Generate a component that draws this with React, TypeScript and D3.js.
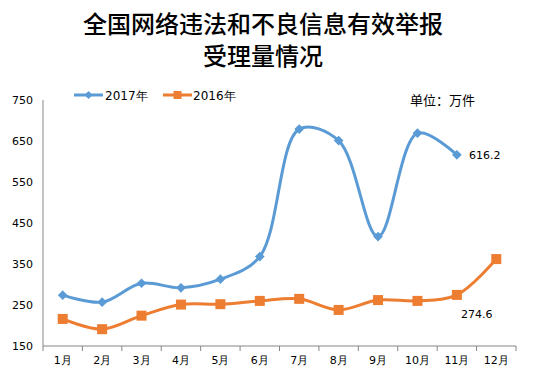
import React from "react";
import * as d3 from "d3";

const months = ["1月","2月","3月","4月","5月","6月","7月","8月","9月","10月","11月","12月"];
const values2017 = [274, 257, 303, 292, 313, 368, 679, 651, 417, 669, 616.2];
const values2016 = [216, 191, 224, 251, 252, 260, 265, 238, 262, 260, 274.6, 362];
const yTicks = [150, 250, 350, 450, 550, 650, 750];

const W = 536, H = 382;
const left = 43, right = 516, top = 100, bottom = 346;
const blue = "#5B9BD5";
const orange = "#ED7D31";
const font = "'DejaVu Sans', sans-serif";
const cjk = "'Noto Sans CJK SC', sans-serif";

export default function App() {
  const x = d3.scaleBand<string>().domain(months).range([left, right]);
  const y = d3.scaleLinear().domain([150, 750]).range([bottom, top]);
  const cx = (i: number) => (x(months[i]) as number) + x.bandwidth() / 2;
  const line = d3.line<number>().x((_, i) => cx(i)).y(d => y(d)).curve(d3.curveCatmullRom.alpha(0.5));
  const dtype = (d3 as any).symbolDiamond2 || d3.symbolDiamond;
  const diamond = d3.symbol().type(dtype).size(60)() as string;
  const legendDiamond = d3.symbol().type(dtype).size(40)() as string;
  const sq = 10;
  const boundaries = d3.range(months.length + 1).map(i => left + i * x.step());
  return (
    <svg width={W} height={H} style={{ position: "absolute", left: 0, top: 0 }}>
      <rect width={W} height={H} fill="#fff" />
      <text x={263} y={33} textAnchor="middle" fontFamily={cjk} fontWeight={500} fontSize={24}>全国网络违法和不良信息有效举报</text>
      <text x={263} y={65} textAnchor="middle" fontFamily={cjk} fontWeight={500} fontSize={24}>受理量情况</text>
      <text x={410} y={105} fontFamily={cjk} fontSize={13}>单位：万件</text>
      {/* legend */}
      <line x1={74} x2={103} y1={95} y2={95} stroke={blue} strokeWidth={3} />
      <path d={legendDiamond} transform="translate(88.5,95)" fill={blue} />
      <text x={105} y={100} fontFamily={font} fontSize={12}>2017年</text>
      <line x1={163} x2={192} y1={95} y2={95} stroke={orange} strokeWidth={3} />
      <rect x={177.5 - 4} y={91} width={8} height={8} fill={orange} />
      <text x={193} y={100} fontFamily={font} fontSize={12}>2016年</text>
      {/* axes */}
      <line x1={left} x2={left} y1={top} y2={bottom} stroke="#868686" />
      <line x1={left} x2={right} y1={bottom} y2={bottom} stroke="#868686" />
      {boundaries.map((b, i) => (
        <line key={i} x1={b} x2={b} y1={bottom} y2={bottom + 5} stroke="#868686" />
      ))}
      {yTicks.map(t => (
        <text key={t} x={33} y={y(t) + 4} textAnchor="end" fontFamily={font} fontSize={11}>{t}</text>
      ))}
      {months.map((m, i) => (
        <text key={m} x={cx(i)} y={364} textAnchor="middle" fontFamily={font} fontSize={11}>{m}</text>
      ))}
      {/* series */}
      <path d={line(values2016) as string} fill="none" stroke={orange} strokeWidth={3} />
      <path d={line(values2017) as string} fill="none" stroke={blue} strokeWidth={3} />
      {values2016.map((v, i) => (
        <rect key={i} x={cx(i) - sq / 2} y={y(v) - sq / 2} width={sq} height={sq} fill={orange} />
      ))}
      {values2017.map((v, i) => (
        <path key={i} d={diamond} transform={`translate(${cx(i)},${y(v)})`} fill={blue} />
      ))}
      <text x={469} y={y(616.2) + 4} fontFamily={font} fontSize={11}>616.2</text>
      <text x={461} y={y(274.6) + 23} fontFamily={font} fontSize={11}>274.6</text>
    </svg>
  );
}
